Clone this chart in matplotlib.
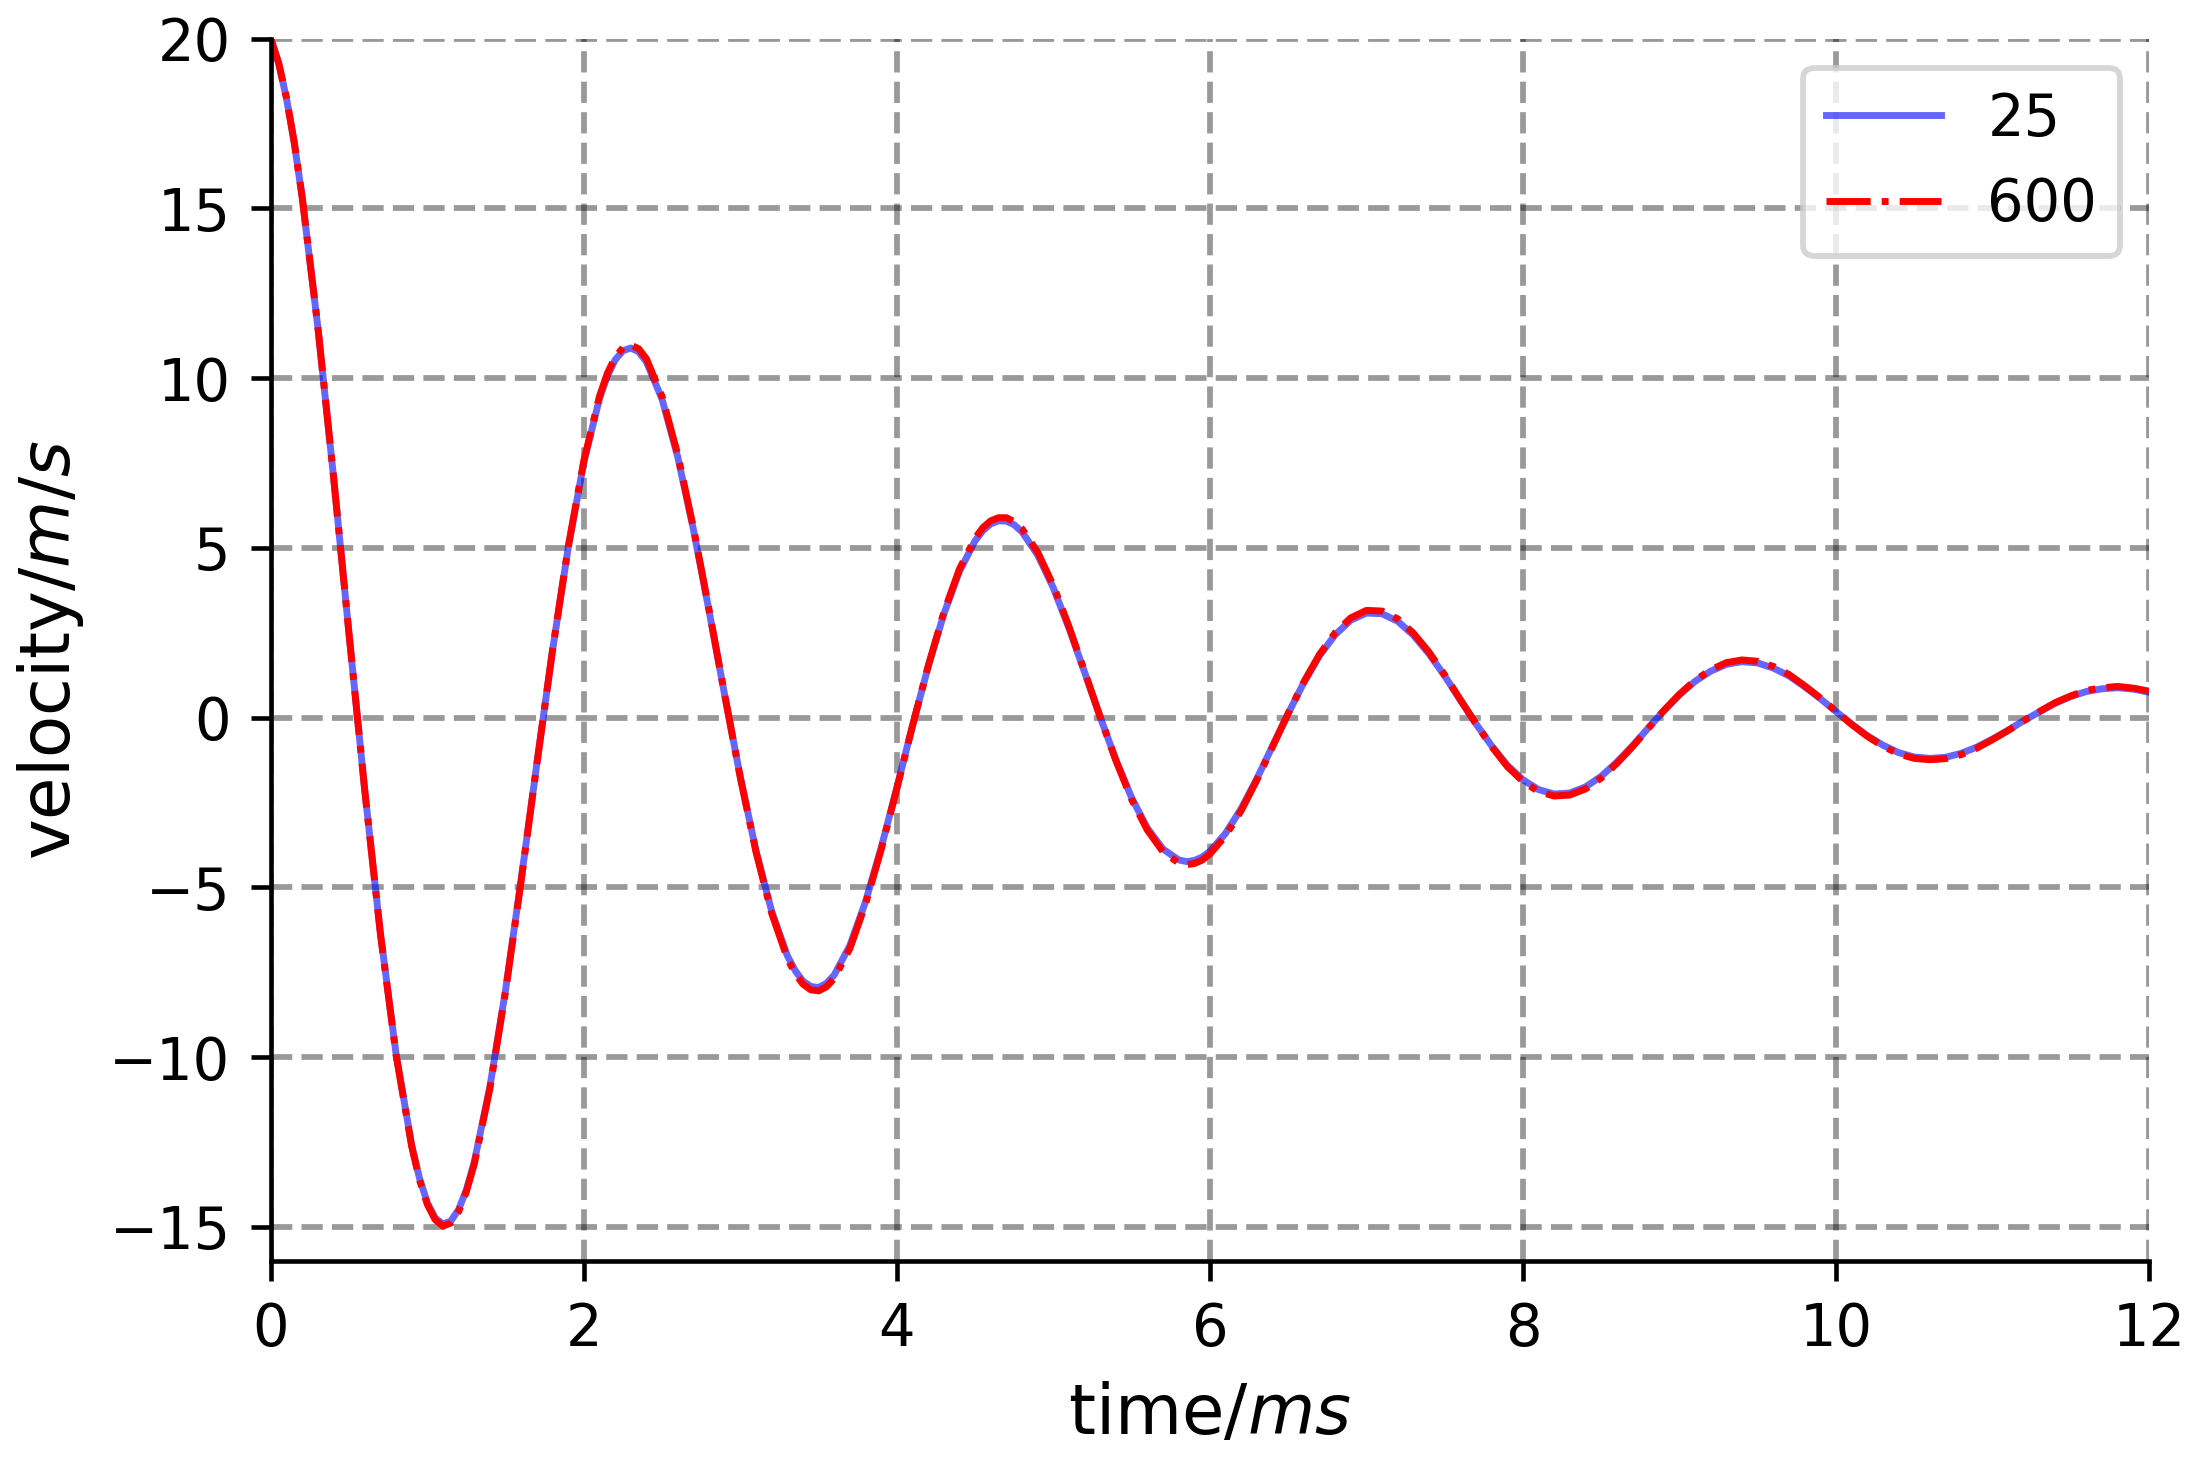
import matplotlib
matplotlib.use('Agg')  # no display

import matplotlib.pyplot as plt
import numpy as np

DPI = 414
WIDTH_PX, HEIGHT_PX = 2207, 1457

# sample times (ms), one sample every 0.1 ms
time_ms = np.linspace(0, 12, 121)

# velocity (m/s), curve "25"
vel_25 = [
    20.00, 18.25, 15.34, 11.53, 7.13, 2.46, -2.13, -6.34, -9.90, -12.59,
    -14.29, -14.92, -14.49, -13.09, -10.87, -8.02, -4.76, -1.35, 1.98, 5.00,
    7.52, 9.40, 10.54, 10.89, 10.48, 9.38, 7.68, 5.55, 3.15, 0.66,
    -1.75, -3.92, -5.70, -7.01, -7.76, -7.95, -7.58, -6.71, -5.42, -3.83,
    -2.06, -0.24, 1.50, 3.05, 4.31, 5.21, 5.71, 5.79, 5.47, 4.79,
    3.82, 2.63, 1.33, 0.01, -1.25, -2.36, -3.25, -3.87, -4.19, -4.21,
    -3.94, -3.41, -2.68, -1.80, -0.84, 0.12, 1.03, 1.82, 2.44, 2.87,
    3.08, 3.06, 2.84, 2.43, 1.88, 1.23, 0.52, -0.18, -0.83, -1.40,
    -1.83, -2.12, -2.25, -2.22, -2.04, -1.73, -1.31, -0.83, -0.31, 0.20,
    0.67, 1.07, 1.37, 1.57, 1.65, 1.61, 1.46, 1.23, 0.91, 0.56,
    0.18, -0.19, -0.53, -0.81, -1.03, -1.16, -1.20, -1.17, -1.05, -0.87,
    -0.63, -0.37, -0.09, 0.17, 0.42, 0.62, 0.77, 0.85, 0.88, 0.84,
    0.75,
]

# velocity (m/s), curve "600"
vel_600 = [
    20.00, 18.26, 15.35, 11.54, 7.14, 2.46, -2.13, -6.36, -9.93, -12.63,
    -14.34, -14.98, -14.55, -13.15, -10.92, -8.06, -4.79, -1.36, 1.99, 5.03,
    7.57, 9.47, 10.62, 10.98, 10.57, 9.46, 7.75, 5.60, 3.18, 0.67,
    -1.77, -3.96, -5.76, -7.09, -7.85, -8.05, -7.68, -6.80, -5.49, -3.88,
    -2.09, -0.24, 1.52, 3.10, 4.38, 5.29, 5.80, 5.89, 5.56, 4.87,
    3.89, 2.68, 1.35, 0.01, -1.27, -2.41, -3.31, -3.95, -4.28, -4.30,
    -4.02, -3.48, -2.74, -1.84, -0.86, 0.12, 1.05, 1.86, 2.50, 2.94,
    3.16, 3.14, 2.91, 2.49, 1.93, 1.26, 0.53, -0.18, -0.85, -1.44,
    -1.88, -2.18, -2.31, -2.28, -2.10, -1.78, -1.35, -0.86, -0.32, 0.21,
    0.69, 1.10, 1.41, 1.62, 1.70, 1.66, 1.51, 1.27, 0.94, 0.58,
    0.19, -0.20, -0.55, -0.84, -1.07, -1.20, -1.24, -1.21, -1.09, -0.90,
    -0.65, -0.38, -0.09, 0.18, 0.44, 0.64, 0.80, 0.88, 0.92, 0.87,
    0.78,
]

# extra readings around the sharp turns of the curves
time_extra = [0.05, 0.15, 0.95, 1.05, 1.15, 1.25, 2.15, 2.25, 2.35,
              3.35, 3.45, 3.55, 4.55, 4.65, 4.75, 5.85, 5.95]
vel_25_extra = [19.28, 16.93, -13.57, -14.74, -14.83, -13.90, 10.06, 10.81, 10.78,
                -7.45, -7.92, -7.83, 5.51, 5.80, 5.68, -4.24, -4.11]
vel_600_extra = [19.29, 16.94, -13.62, -14.79, -14.89, -13.96, 10.14, 10.90, 10.87,
                 -7.54, -8.02, -7.93, 5.60, 5.89, 5.77, -4.33, -4.20]

x_ticks = [0, 2, 4, 6, 8, 10, 12]
y_ticks = [-15, -10, -5, 0, 5, 10, 15, 20]

# merge the regular and the extra readings, sorted by time
t_all = np.concatenate([time_ms, time_extra])
order = np.argsort(t_all, kind='stable')
t_all = t_all[order]
v25_all = np.concatenate([vel_25, vel_25_extra])[order]
v600_all = np.concatenate([vel_600, vel_600_extra])[order]

fig = plt.figure(figsize=(WIDTH_PX / DPI, HEIGHT_PX / DPI), dpi=DPI)
fig.subplots_adjust(left=0.1227, right=0.9737, bottom=0.1347, top=0.9734)
ax = fig.add_subplot(1, 1, 1)

ax.plot(t_all, v25_all, color='b', alpha=0.6, linewidth=1.2, label='25')
ax.plot(t_all, v600_all, color='r', linestyle='-.', linewidth=1.2, label='600')

ax.set_xlim(0, 12)
ax.set_ylim(-16, 20)
ax.set_xticks(x_ticks)
ax.set_yticks(y_ticks)
ax.tick_params(labelsize=10)

ax.spines['top'].set_visible(False)
ax.spines['right'].set_visible(False)
ax.grid(True, linestyle='--', color='k', alpha=0.4, linewidth=1)

ax.set_xlabel('time/$ms$', fontsize=12)
ax.set_ylabel('velocity/$m/s$', fontsize=12)
ax.legend(loc='upper right', fontsize=10)

fig.savefig('out.png', dpi=DPI)
